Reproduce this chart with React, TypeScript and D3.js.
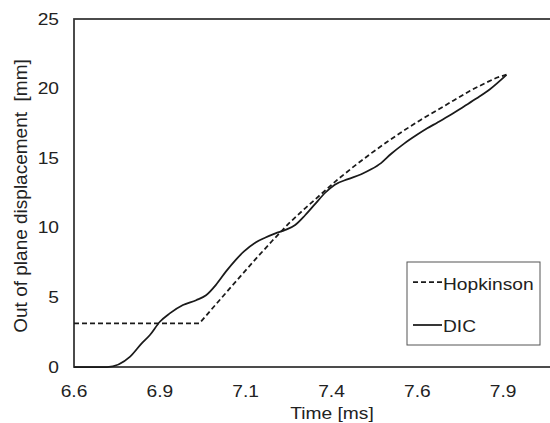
import React from "react";
import * as d3 from "d3";

const hopkinsonTime = [6.6, 6.98, 7.05, 7.1, 7.15, 7.2, 7.25, 7.3, 7.35, 7.4, 7.45, 7.5, 7.55, 7.6, 7.65, 7.7, 7.75, 7.8, 7.85, 7.88, 7.91];
const hopkinsonDisp = [3.14, 3.14, 5.05, 6.4, 7.75, 9.05, 10.3, 11.4, 12.45, 13.5, 14.45, 15.35, 16.2, 17.0, 17.75, 18.45, 19.15, 19.85, 20.45, 20.78, 21.0];

const dicTime = [6.6, 6.7, 6.77, 6.805, 6.83, 6.86, 6.89, 6.93, 6.97, 7.0, 7.03, 7.06, 7.09, 7.115, 7.15, 7.18, 7.21, 7.24, 7.27, 7.3, 7.33, 7.36, 7.39, 7.43, 7.47, 7.5, 7.53, 7.56, 7.6, 7.64, 7.67, 7.7, 7.74, 7.78, 7.82, 7.86, 7.91];
const dicDisp = [0, 0, 0.75, 1.7, 2.3, 3.25, 3.85, 4.45, 4.8, 5.15, 5.9, 6.85, 7.7, 8.3, 8.95, 9.3, 9.6, 9.85, 10.2, 10.9, 11.7, 12.5, 13.1, 13.5, 13.85, 14.2, 14.65, 15.3, 16.05, 16.7, 17.15, 17.55, 18.1, 18.7, 19.3, 19.95, 20.98];

const xTickValues = [6.6, 6.86, 7.12, 7.38, 7.64, 7.9];
const xTickLabels = ["6.6", "6.9", "7.1", "7.4", "7.6", "7.9"];
const yTickValues = [0, 5, 10, 15, 20, 25];
const seriesNames = ["Hopkinson", "DIC"];

const W = 550;
const H = 423;
const FONT = "Arial, 'Liberation Sans', sans-serif";
const INK = "#1a1a1a";

export default function App() {
  const x = d3.scaleLinear().domain([6.6, 8.16]).range([74, 589]);
  const y = d3.scaleLinear().domain([0, 25]).range([367, 19]);

  const hop = hopkinsonTime.map((t, i) => [t, hopkinsonDisp[i]] as [number, number]);
  const dic = dicTime.map((t, i) => [t, dicDisp[i]] as [number, number]);

  const lineLin = d3.line<[number, number]>().x((d) => x(d[0])).y((d) => y(d[1])).curve(d3.curveLinear);
  const lineSmooth = d3.line<[number, number]>().x((d) => x(d[0])).y((d) => y(d[1])).curve(d3.curveMonotoneX);

  const textStyle = { fontFamily: FONT, fontSize: 16, fill: "#222" } as React.CSSProperties;

  return (
    <svg width={W} height={H} style={{ position: "absolute", left: 0, top: 0, display: "block", background: "#fff" }}>
      <rect x={0} y={0} width={W} height={H} fill="#fff" />
      {/* plot frame */}
      <rect x={x(6.6)} y={y(25)} width={x(8.16) - x(6.6)} height={y(0) - y(25)} fill="none" stroke="#333" strokeWidth={1.75} />

      {/* y tick labels */}
      {yTickValues.map((v) => (
        <text key={v} transform={`translate(59,${y(v) + 5.5}) scale(1.2,1)`} textAnchor="end" style={textStyle}>
          {v}
        </text>
      ))}
      {/* x tick labels */}
      {xTickValues.map((v, i) => (
        <text key={v} transform={`translate(${x(v)},397) scale(1.2,1)`} textAnchor="middle" style={textStyle}>
          {xTickLabels[i]}
        </text>
      ))}

      {/* axis titles */}
      <text transform={`translate(332,419) scale(1.2,1)`} textAnchor="middle" style={textStyle}>
        Time [ms]
      </text>
      <text
        transform={`translate(27,${(y(0) + y(25)) / 2 + 3}) rotate(-90)`}
        textAnchor="middle"
        style={{ fontFamily: FONT, fontSize: 19, fill: "#222", whiteSpace: "pre" }}
      >
        {"Out of plane displacement  [mm]"}
      </text>

      {/* series */}
      <path d={lineLin(hop) || ""} fill="none" stroke={INK} strokeWidth={1.75} strokeDasharray="5,3" />
      <path d={lineSmooth(dic) || ""} fill="none" stroke={INK} strokeWidth={1.75} />

      {/* legend */}
      <rect x={407} y={262} width={133} height={83} fill="#fff" stroke="#555" strokeWidth={1} />
      <line x1={413} x2={442} y1={282} y2={282} stroke={INK} strokeWidth={1.75} strokeDasharray="5,3" />
      <text transform={`translate(443,290) scale(1.2,1)`} style={textStyle}>
        {seriesNames[0]}
      </text>
      <line x1={413} x2={442} y1={325} y2={325} stroke={INK} strokeWidth={1.75} />
      <text transform={`translate(443,332) scale(1.2,1)`} style={textStyle}>
        {seriesNames[1]}
      </text>
    </svg>
  );
}
